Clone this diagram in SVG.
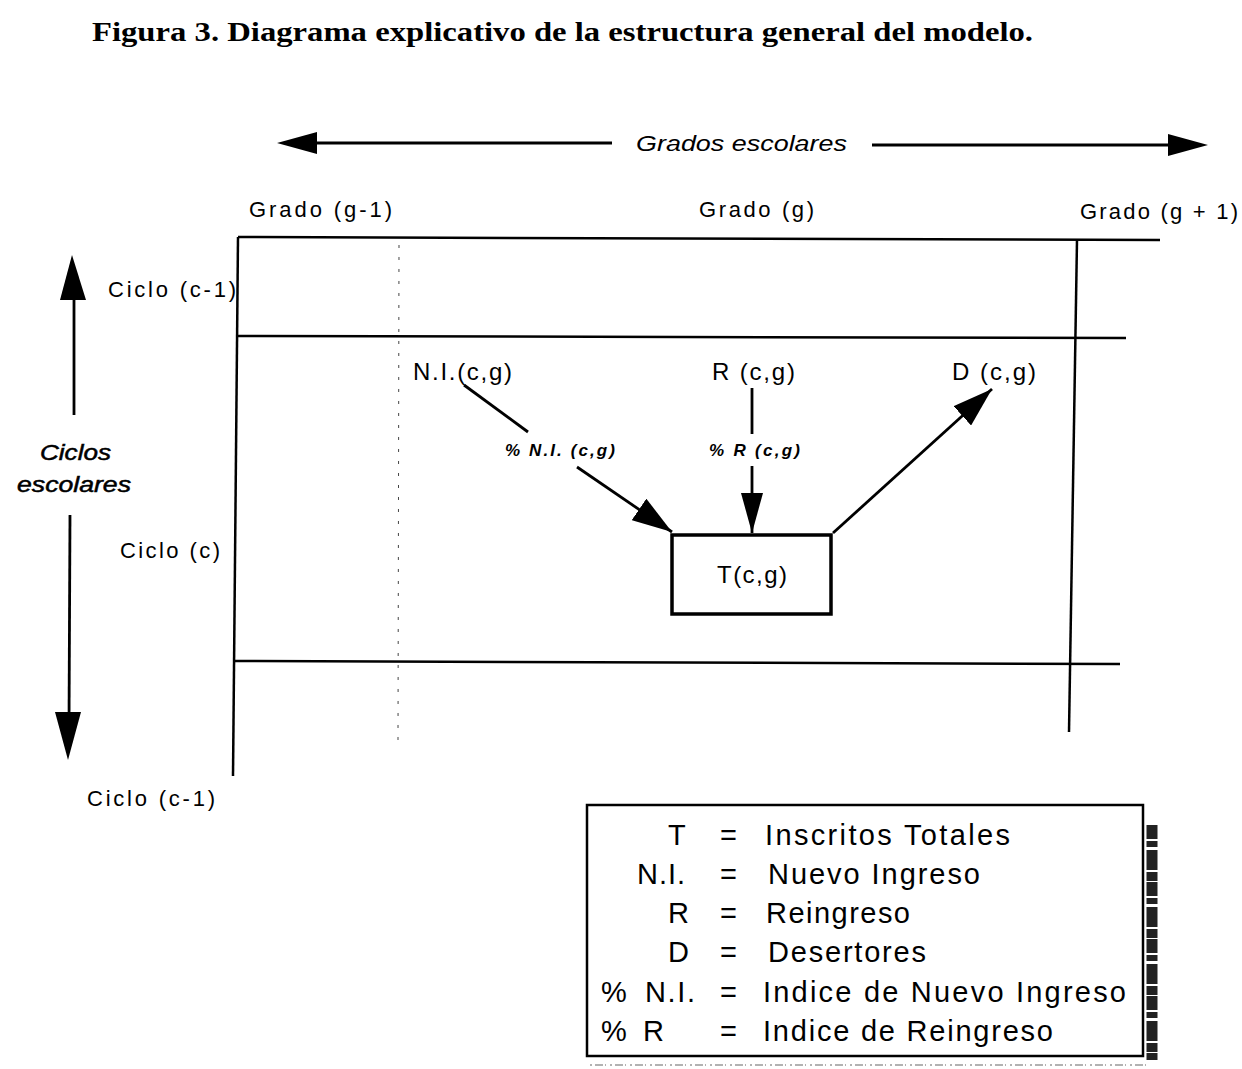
<svg xmlns="http://www.w3.org/2000/svg" width="1242" height="1069" viewBox="0 0 1242 1069">
<defs>
<style>
text{font-family:"Liberation Sans",Arial,sans-serif;fill:#000}
.title{font-family:"Liberation Serif","Times New Roman",serif;font-weight:bold;font-size:28px}
.lab{font-size:22px}
.it{font-style:italic}
.heavy{stroke:#000;stroke-width:0.5}
.small{font-size:17px;font-style:italic;font-weight:bold}
.node{font-size:24px}
.leg{font-size:29px}
.grid{stroke:#000;stroke-width:2.5;fill:none}
.dash{stroke:#444;stroke-width:1;stroke-dasharray:3 9;fill:none}
.conn{stroke:#000;stroke-width:2.8;fill:none}
</style>
<marker id="ah" viewBox="0 0 40 26" refX="40" refY="13" markerWidth="40" markerHeight="26" markerUnits="userSpaceOnUse" orient="auto">
<path d="M0,0 L40,13 L0,26 z" fill="#000"/>
</marker>
<marker id="ahs" viewBox="0 0 40 22" refX="40" refY="11" markerWidth="40" markerHeight="22" markerUnits="userSpaceOnUse" orient="auto">
<path d="M0,0 L40,11 L0,22 z" fill="#000"/>
</marker>
</defs>
<rect width="1242" height="1069" fill="#fff"/>

<text class="title" x="92" y="41" textLength="941" lengthAdjust="spacingAndGlyphs">Figura 3. Diagrama explicativo de la estructura general del modelo.</text>

<g id="axes">
<line class="conn" x1="305" y1="143" x2="612" y2="143"/>
<polygon points="277,143 317,132 317,154" fill="#000"/>
<text class="lab it" x="636" y="151" textLength="211" lengthAdjust="spacingAndGlyphs">Grados escolares</text>
<line class="conn" x1="872" y1="145" x2="1180" y2="145"/>
<polygon points="1208,145 1168,134 1168,156" fill="#000"/>
<line class="conn" x1="74" y1="290" x2="74" y2="415"/>
<polygon points="72,255 60,300 86,300" fill="#000"/>
<text class="lab it heavy" x="40" y="460" textLength="71" lengthAdjust="spacingAndGlyphs">Ciclos</text>
<text class="lab it heavy" x="17" y="492" textLength="114" lengthAdjust="spacingAndGlyphs">escolares</text>
<line class="conn" x1="70" y1="515" x2="69" y2="725"/>
<polygon points="68,760 55,712 81,712" fill="#000"/>
</g>

<g id="labels">
<text class="lab" x="249" y="217" textLength="143" lengthAdjust="spacing">Grado (g-1)</text>
<text class="lab" x="699" y="217" textLength="115" lengthAdjust="spacing">Grado (g)</text>
<text class="lab" x="1080" y="219" textLength="158" lengthAdjust="spacing">Grado (g + 1)</text>
<text class="lab" x="108" y="297" textLength="128" lengthAdjust="spacing">Ciclo (c-1)</text>
<text class="lab" x="120" y="558" textLength="100" lengthAdjust="spacing">Ciclo (c)</text>
<text class="lab" x="87" y="806" textLength="128" lengthAdjust="spacing">Ciclo (c-1)</text>
</g>

<g id="grid">
<line class="grid" x1="238" y1="237" x2="1160" y2="240"/>
<line class="grid" x1="238" y1="336" x2="1126" y2="338"/>
<line class="grid" x1="233" y1="661" x2="1120" y2="664"/>
<line class="grid" x1="238" y1="237" x2="233" y2="776"/>
<line class="grid" x1="1077" y1="240" x2="1069" y2="732"/>
<line class="dash" x1="399" y1="245" x2="398" y2="740"/>
</g>

<g id="node-NI">
<text class="node" x="413" y="380" textLength="99" lengthAdjust="spacing">N.I.(c,g)</text>
</g>
<g id="node-R">
<text class="node" x="712" y="380" textLength="83" lengthAdjust="spacing">R (c,g)</text>
</g>
<g id="node-D">
<text class="node" x="952" y="380" textLength="84" lengthAdjust="spacing">D (c,g)</text>
</g>
<g id="node-T">
<rect x="672" y="535" width="159" height="79" fill="#fff" stroke="#000" stroke-width="3.5"/>
<text class="node" x="717" y="583" textLength="70" lengthAdjust="spacing">T(c,g)</text>
</g>

<g id="connectors">
<line class="conn" x1="464" y1="385" x2="528" y2="432"/>
<line class="conn" x1="577" y1="467" x2="672" y2="532" marker-end="url(#ah)"/>
<text class="small" x="505" y="456" textLength="110" lengthAdjust="spacing">% N.I. (c,g)</text>
<line class="conn" x1="752" y1="388" x2="752" y2="434"/>
<line class="conn" x1="752" y1="466" x2="752" y2="533" marker-end="url(#ahs)"/>
<text class="small" x="709" y="456" textLength="91" lengthAdjust="spacing">% R (c,g)</text>
<line class="conn" x1="833" y1="533" x2="992" y2="389" marker-end="url(#ah)"/>
</g>

<g id="legend">
<rect x="587" y="805" width="556" height="251" fill="none" stroke="#000" stroke-width="2.5"/>
<line x1="1152" y1="825" x2="1152" y2="1060" stroke="#222" stroke-width="11" stroke-dasharray="14 2 6 3 20 2 9 1"/>
<line x1="590" y1="1065" x2="1150" y2="1065" stroke="#999" stroke-width="1.5" stroke-dasharray="2 3 8 2 1 4"/>
<text class="leg" x="668" y="845">T</text>
<text class="leg" x="720" y="845">=</text>
<text class="leg" x="765" y="845" textLength="245" lengthAdjust="spacing">Inscritos Totales</text>
<text class="leg" x="637" y="884" textLength="48" lengthAdjust="spacing">N.I.</text>
<text class="leg" x="720" y="884">=</text>
<text class="leg" x="768" y="884" textLength="212" lengthAdjust="spacing">Nuevo Ingreso</text>
<text class="leg" x="668" y="923">R</text>
<text class="leg" x="720" y="923">=</text>
<text class="leg" x="766" y="923" textLength="144" lengthAdjust="spacing">Reingreso</text>
<text class="leg" x="668" y="962">D</text>
<text class="leg" x="720" y="962">=</text>
<text class="leg" x="768" y="962" textLength="158" lengthAdjust="spacing">Desertores</text>
<text class="leg" x="601" y="1002">%</text>
<text class="leg" x="645" y="1002" textLength="50" lengthAdjust="spacing">N.I.</text>
<text class="leg" x="720" y="1002">=</text>
<text class="leg" x="763" y="1002" textLength="363" lengthAdjust="spacing">Indice de Nuevo Ingreso</text>
<text class="leg" x="601" y="1041">%</text>
<text class="leg" x="643" y="1041">R</text>
<text class="leg" x="720" y="1041">=</text>
<text class="leg" x="763" y="1041" textLength="290" lengthAdjust="spacing">Indice de Reingreso</text>
</g>
</svg>
